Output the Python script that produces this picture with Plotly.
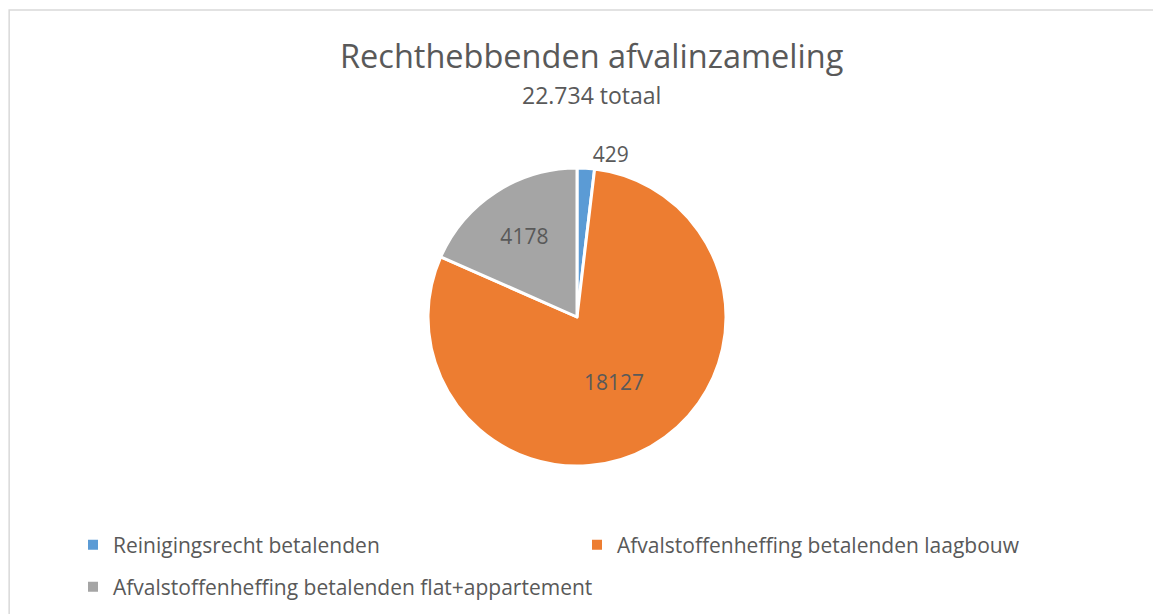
import plotly.graph_objects as go

labels = ["Reinigingsrecht betalenden",
          "Afvalstoffenheffing betalenden laagbouw",
          "Afvalstoffenheffing betalenden flat+appartement"]
values = [429, 18127, 4178]
colors = ["#5B9BD5", "#ED7D31", "#A5A5A5"]
title = "Rechthebbenden afvalinzameling"
subtitle = "22.734 totaal"

OFF = 8  # default page margin of the html body
W, H = 1161 - OFF, 614 - OFF


def px(x):
    return (x - OFF) / W


def py(y):
    return 1 - (y - OFF) / H


cx, cy, r = 577, 317, 149
FONT = "Open Sans"
GREY = "#595959"

fig = go.Figure()
fig.add_trace(go.Pie(
    labels=labels, values=values, sort=False, direction="clockwise", rotation=0,
    marker=dict(colors=colors, line=dict(color="white", width=3)),
    texttemplate="%{value:d}", textposition=["outside", "inside", "inside"],
    insidetextorientation="horizontal",
    textfont=dict(size=21, color=GREY, family=FONT),
    domain=dict(x=[px(cx - r), px(cx + r)], y=[py(cy + r), py(cy - r)]),
    hoverinfo="label+value", showlegend=False,
))

# legend entries (two legends to mimic the two-row, two-column layout)
legend_ids = ["legend", "legend", "legend2"]
for lab, col, lg in zip(labels, colors, legend_ids):
    fig.add_trace(go.Scatter(x=[None], y=[None], mode="markers", name=lab,
                             marker=dict(symbol="square", size=10, color=col),
                             legend=lg, hoverinfo="skip"))

fig.update_layout(
    width=W, height=H, margin=dict(l=0, r=0, t=0, b=0),
    paper_bgcolor="white", plot_bgcolor="white",
    font=dict(family=FONT, color=GREY),
    xaxis=dict(visible=False), yaxis=dict(visible=False),
    legend=dict(orientation="h", x=px(73), xanchor="left", y=py(545), yanchor="middle",
                entrywidth=459, entrywidthmode="pixels", bgcolor="rgba(0,0,0,0)",
                font=dict(size=21, color=GREY, family=FONT), itemwidth=30),
    legend2=dict(orientation="h", x=px(73), xanchor="left", y=py(587), yanchor="middle",
                 bgcolor="rgba(0,0,0,0)",
                 font=dict(size=21, color=GREY, family=FONT), itemwidth=30),
    annotations=[
        dict(text=title, x=px(591), y=py(55), xref="paper", yref="paper", showarrow=False,
             font=dict(size=32.5, color=GREY, family=FONT), xanchor="center", yanchor="middle"),
        dict(text=subtitle, x=px(591), y=py(95), xref="paper", yref="paper", showarrow=False,
             font=dict(size=23, color=GREY, family=FONT), xanchor="center", yanchor="middle"),
    ],
    shapes=[dict(type="rect", xref="paper", yref="paper", x0=0.001, x1=1.01, y0=-0.01, y1=py(10),
                 line=dict(color="#D9D9D9", width=1.5), fillcolor="rgba(0,0,0,0)")],
)

fig.write_html("out.html")
